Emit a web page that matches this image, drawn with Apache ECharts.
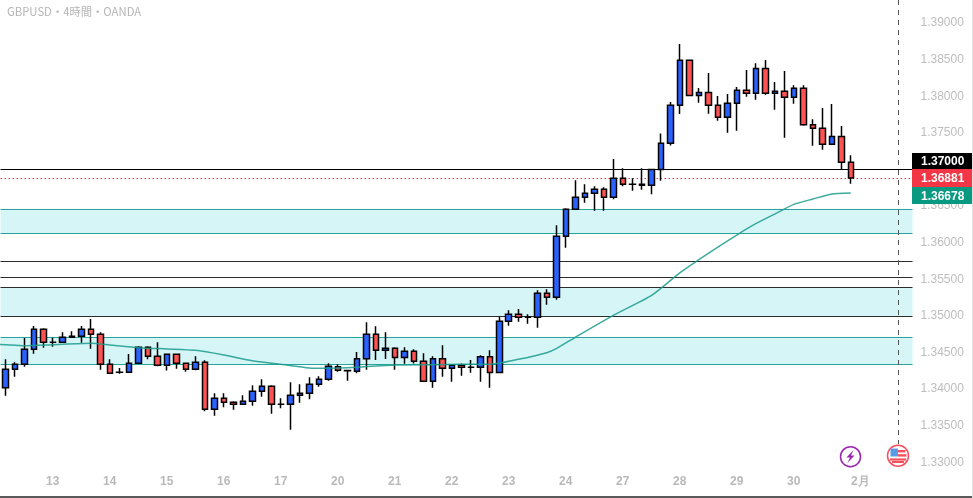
<!DOCTYPE html>
<html><head><meta charset="utf-8">
<style>html,body{margin:0;padding:0;background:#fff}#c{width:973px;height:498px}</style>
<script src="https://cdn.jsdelivr.net/npm/echarts@6/dist/echarts.min.js"></script>
</head><body><div id="c"></div>
<script>
const opens=[1.34018,1.34269,1.34337,1.34542,1.34815,1.34638,1.34638,1.34706,1.34720,1.34815,1.34747,1.34337,1.34228,1.34228,1.34351,1.34569,1.34446,1.34323,1.34474,1.34351,1.34269,1.34364,1.33722,1.33873,1.33818,1.33791,1.33832,1.33968,1.34037,1.33791,1.33791,1.33914,1.33941,1.34064,1.34132,
1.34305,1.34250,1.34241,1.34414,1.34747,1.34528,1.34555,1.34432,1.34514,1.34378,1.34105,1.34414,1.34282,1.34323,1.34296,1.34296,1.34442,1.34227,1.34924,1.35020,1.34979,1.34979,1.35307,1.35252,1.36086,1.36454,1.36618,1.36673,1.36728,1.36618,1.36878,1.36796,1.36782,
1.36782,1.37000,1.37356,1.37875,1.38490,1.38011,1.38052,1.37875,1.37711,1.37902,1.38080,1.38039,1.38380,1.38039,1.38066,1.37984,1.38107,1.37611,1.37561,1.37342,1.37451,1.37096];
const closes=[1.34269,1.34337,1.34542,1.34815,1.34638,1.34640,1.34706,1.34720,1.34815,1.34747,1.34337,1.34214,1.34230,1.34351,1.34569,1.34446,1.34323,1.34474,1.34351,1.34269,1.34364,1.33722,1.33873,1.33818,1.33791,1.33832,1.33968,1.34037,1.33791,1.33793,1.33914,1.33941,1.34064,1.34132,1.34310,
1.34255,1.34252,1.34414,1.34747,1.34528,1.34555,1.34432,1.34514,1.34378,1.34105,1.34414,1.34282,1.34323,1.34296,1.34298,1.34442,1.34227,1.34924,1.35020,1.34979,1.34981,1.35307,1.35252,1.36086,1.36454,1.36618,1.36673,1.36728,1.36618,1.36878,1.36796,1.36798,1.36796,
1.37000,1.37356,1.37875,1.38490,1.38011,1.38052,1.37875,1.37711,1.37902,1.38080,1.38039,1.38380,1.38039,1.38066,1.37984,1.38107,1.37611,1.37561,1.37342,1.37451,1.37096,1.36881];
const lows=[1.33909,1.34169,1.34305,1.34483,1.34565,1.34578,1.34633,1.34706,1.34633,1.34551,1.34264,1.34214,1.34210,1.34228,1.34351,1.34405,1.34310,1.34251,1.34278,1.34237,1.34255,1.33695,1.33636,1.33750,1.33718,1.33791,1.33772,1.33895,1.33663,1.33736,1.33444,1.33813,1.33859,1.34032,1.34114,
1.34237,1.34114,1.34214,1.34264,1.34396,1.34410,1.34264,1.34346,1.34350,1.34105,1.34018,1.34168,1.34100,1.34182,1.34223,1.34100,1.34018,1.34227,1.34865,1.34920,1.34892,1.34838,1.35152,1.35220,1.35931,1.36454,1.36545,1.36436,1.36436,1.36591,1.36769,1.36709,1.36723,
1.36659,1.36846,1.37328,1.37756,1.38011,1.37911,1.37761,1.37665,1.37501,1.37529,1.37993,1.37952,1.38021,1.37816,1.37433,1.37898,1.37597,1.37324,1.37269,1.37342,1.37005,1.36805];
const highs=[1.34405,1.34364,1.34697,1.34861,1.34829,1.34701,1.34774,1.34788,1.34861,1.34956,1.34774,1.34405,1.34287,1.34478,1.34583,1.34583,1.34638,1.34474,1.34474,1.34351,1.34446,1.34392,1.33941,1.33941,1.33832,1.33914,1.34050,1.34132,1.34050,1.33873,1.34091,1.34064,1.34159,1.34173,1.34351,
1.34337,1.34259,1.34505,1.34911,1.34856,1.34774,1.34569,1.34569,1.34542,1.34487,1.34446,1.34596,1.34337,1.34350,1.34396,1.34460,1.34528,1.34988,1.35075,1.35093,1.35020,1.35348,1.35361,1.36236,1.36468,1.36851,1.36796,1.36769,1.36755,1.37142,1.37015,1.36878,1.37015,
1.37000,1.37492,1.37920,1.38713,1.38503,1.38112,1.38317,1.38002,1.38030,1.38125,1.38358,1.38449,1.38494,1.38194,1.38344,1.38148,1.38148,1.37684,1.37838,1.37893,1.37592,1.37192];
const maIndex=[-1,0,2,5,9,11,14,17,20,23,26,29,32,34,37,41,45,48,51,54,57,58,60,64,68,71,74,77,79,81,83,85,87,89];
const maValues=[1.34612,1.34606,1.34592,1.34606,1.34624,1.34601,1.34565,1.34547,1.34528,1.34465,1.34387,1.34337,1.34287,1.34282,1.34296,1.34328,1.34332,1.34337,1.34337,1.34405,1.34496,1.34551,1.34706,1.35006,1.35275,1.35585,1.35853,1.36103,1.36258,1.36390,1.36522,1.36595,1.36665,1.36678];
const dayIndex=[5,11,17,23,29,35,41,47,53,59,65,71,77,83,90];
const dayLabels=['13','14','15','16','17','20','21','22','23','24','27','28','29','30','2月'];
const priceTicks=[1.33,1.335,1.34,1.345,1.35,1.355,1.36,1.365,1.37,1.375,1.38,1.385,1.39];
const tealBands=[[1.36455,1.36127],[1.34706,1.34337]];
const darkBands=[[1.35389,1.34993]];
const darkLines=[1.35745,1.35526];
const titleText='GBPUSD・4時間・OANDA';
const priceTags=[['1.37000','#000000',153,16],['1.36881','#f23645',169,18],['1.36678','#089981',187,17]];
const slotCount=96, cursorSlot=94;

const categories=[];
for(let i=0;i<slotCount;i++){const k=dayIndex.indexOf(i);categories.push(k>=0?dayLabels[k]:'');}
const candles=opens.map((o,i)=>[o,closes[i],lows[i],highs[i]]);
const TEAL='#26a69a',DARK='#2b2b2b',FILL='#d6f5f7';
const lineOf=(v,c,type,w)=>({yAxis:v,lineStyle:{color:c,type:type||'solid',width:w||1.2}});
const font='"Liberation Sans",Arial,sans-serif';
const tagEls=[];
priceTags.forEach(t=>{
  tagEls.push({type:'rect',z:100,shape:{x:912,y:t[2],width:61,height:t[3]},style:{fill:t[1]}});
  tagEls.push({type:'text',z:101,x:921,y:t[2]+t[3]/2+1,style:{text:t[0],fill:'#fff',font:'bold 12px '+font,textVerticalAlign:'middle'}});
});
const iconEls=[
 {type:'circle',z:100,shape:{cx:850.5,cy:456.7,r:10},style:{fill:'#fff',stroke:'#9c27b0',lineWidth:1.5}},
 {type:'polygon',z:101,shape:{points:[[853.5,450],[846.5,457.5],[850,457.5],[847.5,463],[854.5,455.5],[851,455.5]]},style:{fill:'#9c27b0'}},
 {type:'circle',z:100,shape:{cx:898,cy:455.7,r:10.5},style:{fill:'#fff',stroke:'#f6505f',lineWidth:1.5}},
 {type:'rect',z:101,shape:{x:898,y:450,width:7.5,height:2.4},style:{fill:'#f6505f'}},
 {type:'rect',z:101,shape:{x:898,y:454.2,width:8.5,height:2.4},style:{fill:'#f6505f'}},
 {type:'rect',z:101,shape:{x:890,y:458.4,width:16,height:2.2},style:{fill:'#f6505f'}},
 {type:'rect',z:101,shape:{x:892,y:461,width:12,height:2},style:{fill:'#f6505f'}},
 {type:'rect',z:102,shape:{x:890.5,y:448.5,width:7.5,height:8},style:{fill:'#5b9be6'}}
];
const chart=echarts.init(document.getElementById('c'),null,{renderer:'canvas'});
chart.setOption({
  animation:false,
  backgroundColor:'#fff',
  grid:{left:0.5,top:0,width:912,height:470},
  xAxis:{type:'category',data:categories,boundaryGap:true,
    axisLine:{show:false},axisTick:{show:false},splitLine:{show:false},
    axisLabel:{interval:0,margin:6,color:'#b9b9b9',fontSize:12,fontWeight:'bold',fontFamily:font}},
  yAxis:{type:'value',position:'right',min:1.328934,max:1.393142,scale:true,
    axisLine:{show:false},axisTick:{show:false},splitLine:{show:false},
    axisLabel:{customValues:priceTicks,margin:8,color:'#bdbdbd',fontSize:12,fontFamily:font,padding:[2,0,0,0],
      formatter:v=>v.toFixed(5)}},
  series:[
   {type:'candlestick',name:'GBPUSD',data:candles,barWidth:6,z:5,
    itemStyle:{color:'#2962ff',color0:'#ff5252',borderColor:'#000',borderColor0:'#000',borderWidth:1.5},
    markArea:{silent:true,z:1,itemStyle:{color:FILL,opacity:1},
      data:tealBands.concat(darkBands).map(b=>[{yAxis:b[0]},{yAxis:b[1]}])},
    markLine:{silent:true,symbol:'none',z:2,precision:5,label:{show:false},animation:false,
      data:[
        ...tealBands.flat().map(v=>lineOf(v,TEAL)),
        ...darkBands.flat().map(v=>lineOf(v,DARK)),
        ...darkLines.map(v=>lineOf(v,DARK)),
        lineOf(closes[closes.length-1],'#f23645',[1.5,2.5],1),
        lineOf(1.37,'#000',null,1.2),
        [{coord:[cursorSlot,1.393142],lineStyle:{color:'#555',type:[5,5],width:1}},{coord:[cursorSlot,1.33246]}]
      ]}},
   {type:'line',name:'MA',data:maIndex.map((x,i)=>[x,maValues[i]]),showSymbol:false,symbol:'none',z:6,
    smooth:0.2,lineStyle:{color:'#1a9b8c',width:1.5,opacity:0.85}}
  ],
  graphic:[
   {type:'text',z:100,x:7,y:12,style:{text:titleText,fill:'#b5b5b5',font:'11.3px "Noto Sans CJK JP",sans-serif',textVerticalAlign:'middle'}},
   ...tagEls,...iconEls,
   {type:'rect',z:100,shape:{x:0,y:496,width:973,height:2},style:{fill:'#5a5a5a'}},
   {type:'rect',z:100,shape:{x:972,y:0,width:1,height:498},style:{fill:'#e0e0e0'}}
  ]
});
</script></body></html>
